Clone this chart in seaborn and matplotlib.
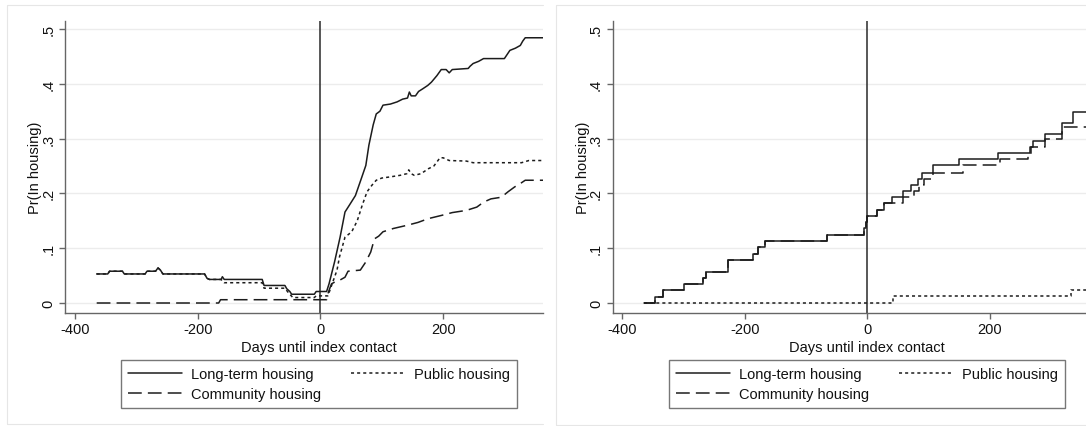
import matplotlib
matplotlib.use("Agg")
import matplotlib.pyplot as plt
from matplotlib.lines import Line2D
import pandas as pd
import seaborn as sns

# ---------------------------------------------------------------- data
# Left panel: smoothed probability of being in housing around the index contact
left_days_longterm = [-365, -347, -344, -323, -320, -286, -283, -269, -265, -261, -257, -189,
                      -185, -181, -162, -160, -157, -95, -92, -58, -55, -50, -47, -10, -7, 10,
                      14, 23, 32, 40, 48, 57, 66, 74, 79, 86, 91, 97, 102, 114, 125, 134, 142,
                      145, 148, 155, 160, 167, 175, 181, 190, 197, 205, 210, 215, 241, 244, 249,
                      258, 266, 300, 309, 318, 326, 330, 334, 365]
left_vals_longterm = [.053, .053, .058, .058, .053, .053, .058, .058, .064, .060, .053, .053,
                      .045, .043, .043, .048, .043, .043, .032, .032, .026, .021, .016, .016, .021, .021,
                      .035, .075, .120, .166, .180, .196, .225, .251, .288, .325, .345, .350, .361, .363, .367, .372, .374,
                      .385, .378, .378, .386, .391, .397, .403, .415, .426, .426, .420, .426, .428, .432, .437,
                      .441, .446, .446, .461, .465, .470, .478, .484, .484]

left_days_public = [-365, -347, -344, -323, -320, -286, -283, -269, -265, -261, -257, -189,
                    -185, -181, -162, -160, -157, -95, -92, -58, -51, -45, -10, -7, 12, 16, 20,
                    27, 31, 40, 51, 60, 68, 76, 84, 91, 100, 113, 130, 141, 144, 148, 153, 164,
                    176, 185, 195, 200, 210, 238, 249, 328, 340, 365]
left_vals_public = [.053, .053, .058, .058, .053, .053, .058, .058, .064, .060, .053, .053,
                    .045, .043, .043, .040, .037, .037, .027, .027, .017, .010, .010, .013, .013, .025, .038,
                    .060, .084, .120, .130, .150, .178, .203, .215, .224, .228, .230, .233, .236, .243, .236, .233, .236,
                    .245, .250, .265, .265, .260, .259, .256, .256, .260, .260]

left_days_community = [-365, -166, -163, 10, 13, 18, 23, 32, 40, 45, 65, 74, 82, 88, 95, 102,
                       119, 142, 159, 176, 198, 215, 238, 255, 266, 278, 295, 306, 317, 326, 334, 365]
left_vals_community = [0, 0, .006, .006, .020, .035, .038, .042, .047, .058, .060, .075, .093, .117, .122, .130,
                       .136, .142, .147, .154, .160, .165, .169, .175, .184, .190, .193, .203, .212, .218, .224, .224]

# Right panel: step functions (value holds until the next change day)
right_days_longterm = [-365, -347, -334, -300, -268, -264, -227, -186, -178, -168, -66, -6, -3, 0,
                       16, 28, 41, 59, 72, 82, 90, 107, 149, 214, 266, 270, 290, 318, 336, 365]
right_vals_longterm = [0, .011, .023, .034, .045, .057, .079, .090, .102, .113, .124, .136, .148, .159,
                       .170, .182, .193, .204, .216, .227, .238, .251, .262, .273, .285, .296, .308, .329, .349, .349]

right_days_community = [-365, -347, -334, -300, -268, -264, -227, -186, -178, -168, -66, -6, -3, 0,
                        16, 28, 59, 76, 85, 92, 107, 157, 216, 262, 268, 290, 318, 365]
right_vals_community = [0, .011, .023, .034, .045, .057, .079, .090, .102, .113, .124, .136, .148, .159,
                        .170, .182, .193, .204, .216, .227, .238, .251, .262, .272, .285, .300, .321, .321]

right_days_public = [-365, 42, 333, 365]
right_vals_public = [0, .013, .024, .024]

series_names = ["Long-term housing", "Community housing", "Public housing"]
x_ticks = [-400, -200, 0, 200]
x_tick_labels = ["-400", "-200", "0", "200"]
y_ticks = [0, .1, .2, .3, .4, .5]
y_tick_labels = ["0", ".1", ".2", ".3", ".4", ".5"]
x_title = "Days until index contact"
y_title = "Pr(In housing)"

# ---------------------------------------------------------------- style
sns.set_theme(style="white")
plt.rcParams["font.family"] = ["Liberation Sans", "DejaVu Sans"]
plt.rcParams["font.size"] = 10.5

INK = "#1c1c1c"
AXIS = "#666666"
line_styles = {
    "Long-term housing": "-",
    "Community housing": (0, (9, 4)),
    "Public housing": (0, (2, 2)),
}

W, H = 1086, 427
fig = plt.figure(figsize=(W / 100, H / 100), dpi=100)
fig.patch.set_facecolor("white")


def px_rect(x0, x1, ytop, ybot):
    return [x0 / W, 1 - ybot / H, (x1 - x0) / W, (ybot - ytop) / H]


def fig_line(x0, y0, x1, y1, color="#e6e6e6"):
    fig.add_artist(Line2D([x0 / W, x1 / W], [1 - y0 / H, 1 - y1 / H],
                          transform=fig.transFigure, color=color, lw=0.8))


# faint outer frames of the two graphs
fig_line(7, 6, 543, 6)
fig_line(7, 6, 7, 425)
fig_line(7, 425, 543, 425)
fig_line(556, 6, 1086, 6)
fig_line(556, 6, 556, 426)
fig_line(556, 426, 1086, 426)

ax_l = fig.add_axes(px_rect(65, 543, 22, 313.7))
ax_r = fig.add_axes(px_rect(612.7, 1122, 22, 313.7))

panels = [
    (ax_l, (-416.7, 363.0),
     {"Long-term housing": (left_days_longterm, left_vals_longterm),
      "Community housing": (left_days_community, left_vals_community),
      "Public housing": (left_days_public, left_vals_public)},
     "default", 319.0),
    (ax_r, (-416.0, 416.0),
     {"Long-term housing": (right_days_longterm, right_vals_longterm),
      "Community housing": (right_days_community, right_vals_community),
      "Public housing": (right_days_public, right_vals_public)},
     "steps-post", 867.0),
]

for ax, xlim, series, drawstyle, center_px in panels:
    ax.set_facecolor("white")
    ax.set_axisbelow(True)
    for name in ["Public housing", "Community housing", "Long-term housing"]:
        days, vals = series[name]
        df = pd.DataFrame({"day": days, "pr": vals})
        sns.lineplot(data=df, x="day", y="pr", ax=ax, estimator=None, sort=False,
                     color=INK, lw=1.1, linestyle=line_styles[name],
                     drawstyle=drawstyle, legend=False, zorder=3)
    ax.axvline(0, color="#2a2a2a", lw=1.1, zorder=2)

    ax.set_xticks(x_ticks)
    ax.set_xticklabels(x_tick_labels)
    ax.set_yticks(y_ticks)
    ax.set_yticklabels(y_tick_labels, rotation=90, va="center")
    ax.set_xlim(*xlim)
    ax.set_ylim(-0.0177, 0.5146)
    ax.yaxis.grid(True, color="#ececec", lw=1.0)
    ax.xaxis.grid(False)

    for side in ("top", "right"):
        ax.spines[side].set_visible(False)
    for side in ("left", "bottom"):
        ax.spines[side].set_color(AXIS)
        ax.spines[side].set_linewidth(1.0)
    ax.tick_params(axis="both", which="major", bottom=True, left=True, direction="out",
                   length=4, width=1.0, color=AXIS, labelsize=10.5, labelcolor="#111111")
    ax.tick_params(axis="x", pad=3)
    ax.tick_params(axis="y", pad=3)

    ax_w_px = ax.get_position().width * W
    ax_x0_px = ax.get_position().x0 * W
    ax.set_xlabel(x_title, fontsize=10.5, color="#111111")
    ax.set_ylabel(y_title, fontsize=10.5, color="#111111")
    ax.xaxis.set_label_coords((center_px - ax_x0_px) / ax_w_px, -0.095)
    ax.yaxis.set_label_coords(-23.0 / ax_w_px, 0.5)

    handles = [Line2D([], [], color=INK, lw=1.1, linestyle=line_styles[n]) for n in series_names]
    leg = ax.legend(handles, series_names, ncol=2, loc="center",
                    bbox_to_anchor=(center_px / W, 1 - 385 / H), bbox_transform=fig.transFigure,
                    frameon=True, fancybox=False, shadow=False, framealpha=1,
                    edgecolor="#777777", handlelength=3.7, handletextpad=0.6,
                    columnspacing=2.1, borderpad=0.5, labelspacing=0.38, fontsize=10.5)
    leg.get_frame().set_linewidth(1.0)
    for t in leg.get_texts():
        t.set_color("#111111")

fig.savefig("out.png", dpi=100, facecolor="white")
